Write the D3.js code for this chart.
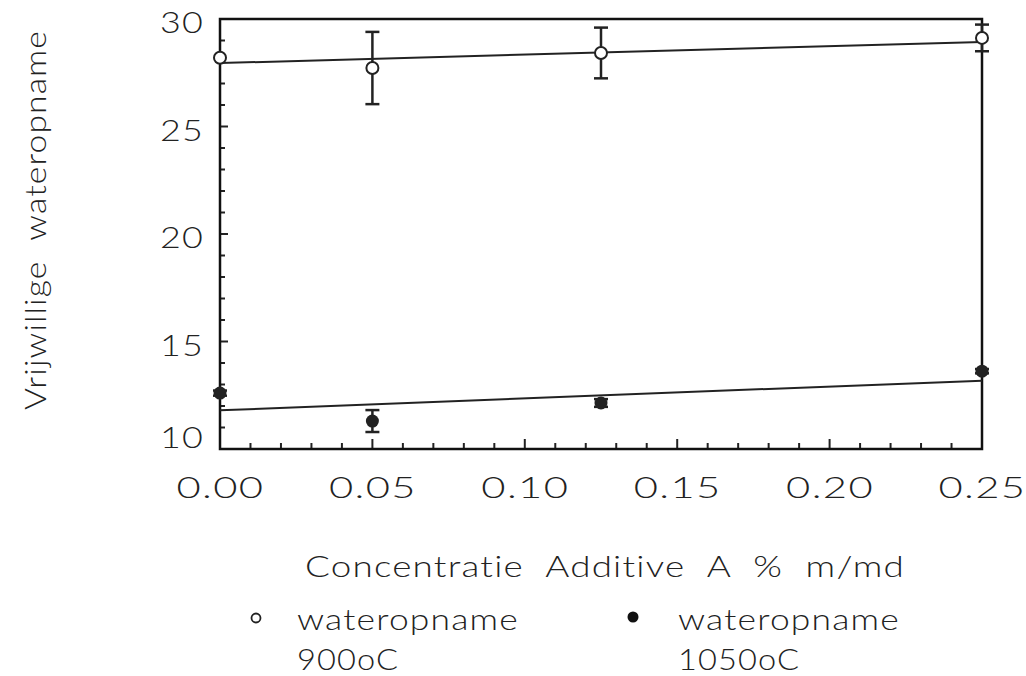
<!DOCTYPE html>
<html>
<head>
<meta charset="utf-8">
<script src="https://cdn.jsdelivr.net/npm/d3@7"></script>
<style>
  body { margin: 0; background: #fff; }
  text { font-family: "Lato", "DejaVu Sans", sans-serif; font-weight: 300; fill: #222; white-space: pre; letter-spacing: 1px; }
</style>
</head>
<body>
<script>
// data
var concentrations = [0, 0.05, 0.125, 0.25];
var water900 = [28.2, 27.72, 28.42, 29.12];
var err900 = [0, 1.68, 1.18, 0.62];
var water1050 = [12.6, 11.3, 12.14, 13.62];
var err1050 = [0.12, 0.51, 0.18, 0.1];
var fit900 = [27.95, 28.93];   // fit line at x = 0 and x = 0.25
var fit1050 = [11.8, 13.18];
var xTicks = [0, 0.05, 0.10, 0.15, 0.20, 0.25];
var yTicks = [10, 15, 20, 25, 30];

var svgWidth = 1026;
var svgHeight = 676;

var chartMargin = { top: 19, left: 220 };
var chartWidth = 762;
var chartHeight = 430;

var svg = d3.select("body")
  .append("svg")
  .attr("width", svgWidth)
  .attr("height", svgHeight);

var chartGroup = svg.append("g")
  .attr("transform", `translate(${chartMargin.left}, ${chartMargin.top})`);

var xScale = d3.scaleLinear().domain([0, 0.25]).range([0, chartWidth]);
var yScale = d3.scaleLinear().domain([10, 30]).range([chartHeight, 0]);

// minor ticks, pointing inwards
var xMinor = d3.range(1, 25).map(d => d / 100);
chartGroup.selectAll(".xtick")
  .data(xMinor)
  .enter()
  .append("line")
  .attr("x1", d => xScale(d))
  .attr("x2", d => xScale(d))
  .attr("y1", chartHeight)
  .attr("y2", (d, i) => chartHeight - ((i + 1) % 5 == 0 ? 10 : 6))
  .attr("stroke", "#222")
  .attr("stroke-width", 2);

var yMinor = d3.range(11, 30);
chartGroup.selectAll(".ytick")
  .data(yMinor)
  .enter()
  .append("line")
  .attr("x1", 0)
  .attr("x2", d => (d % 5 == 0 ? 8 : 5))
  .attr("y1", d => yScale(d))
  .attr("y2", d => yScale(d))
  .attr("stroke", "#222")
  .attr("stroke-width", 2);

// frame
chartGroup.append("rect")
  .attr("width", chartWidth)
  .attr("height", chartHeight)
  .attr("fill", "none")
  .attr("stroke", "#111")
  .attr("stroke-width", 2.5);

// tick labels
var xAxis = d3.axisBottom(xScale).tickValues(xTicks).tickFormat(d3.format(".2f")).tickSize(0).tickPadding(28);
var xg = chartGroup.append("g")
  .attr("transform", `translate(0, ${chartHeight})`)
  .call(xAxis);
xg.select(".domain").remove();
xg.selectAll("text")
  .style("font-family", "Lato, sans-serif")
  .style("font-weight", 300)
  .style("font-size", "30px")
  .style("fill", "#222")
  .attr("textLength", 88)
  .attr("lengthAdjust", "spacingAndGlyphs");

var yAxis = d3.axisLeft(yScale).tickValues(yTicks).tickSize(0).tickPadding(16);
var yg = chartGroup.append("g").call(yAxis);
yg.select(".domain").remove();
yg.selectAll("text")
  .style("font-family", "Lato, sans-serif")
  .style("font-weight", 300)
  .style("font-size", "30px")
  .style("fill", "#222")
  .attr("dy", d => d == 10 ? "-0.05em" : "0.45em")
  .attr("textLength", 44)
  .attr("lengthAdjust", "spacingAndGlyphs");

// fit lines
var fitLine = d3.line().x(d => xScale(d[0])).y(d => yScale(d[1]));
[fit900, fit1050].forEach(function(f) {
  chartGroup.append("path")
    .attr("d", fitLine([[0, f[0]], [0.25, f[1]]]))
    .attr("fill", "none")
    .attr("stroke", "#222")
    .attr("stroke-width", 2);
});

// error bars
function drawErrors(values, errs) {
  values.forEach(function(v, i) {
    if (errs[i] <= 0) return;
    var x = xScale(concentrations[i]);
    var g = chartGroup.append("g").attr("stroke", "#222").attr("stroke-width", 2.5);
    g.append("line").attr("x1", x).attr("x2", x)
      .attr("y1", yScale(v + errs[i])).attr("y2", yScale(v - errs[i]));
    [v + errs[i], v - errs[i]].forEach(function(e) {
      g.append("line").attr("x1", x - 7).attr("x2", x + 7)
        .attr("y1", yScale(e)).attr("y2", yScale(e));
    });
  });
}
drawErrors(water900, err900);
drawErrors(water1050, err1050);

// markers
chartGroup.selectAll(".open")
  .data(water900)
  .enter()
  .append("circle")
  .attr("cx", (d, i) => xScale(concentrations[i]))
  .attr("cy", d => yScale(d))
  .attr("r", 6)
  .attr("fill", "#fff")
  .attr("stroke", "#222")
  .attr("stroke-width", 2);

chartGroup.selectAll(".filled")
  .data(water1050)
  .enter()
  .append("circle")
  .attr("cx", (d, i) => xScale(concentrations[i]))
  .attr("cy", d => yScale(d))
  .attr("r", 6.5)
  .attr("fill", "#222");

// axis titles
svg.append("text")
  .attr("x", 305)
  .attr("y", 577)
  .attr("font-size", "30px")
  .attr("textLength", 600)
  .attr("lengthAdjust", "spacingAndGlyphs")
  .text("Concentratie  Additive  A  %  m/md");

svg.append("text")
  .attr("transform", "translate(46, 410) rotate(-90)")
  .attr("font-size", "30px")
  .attr("textLength", 380)
  .attr("lengthAdjust", "spacingAndGlyphs")
  .text("Vrijwillige  wateropname");

// legend
svg.append("circle").attr("cx", 256).attr("cy", 618).attr("r", 4.5)
  .attr("fill", "#fff").attr("stroke", "#222").attr("stroke-width", 1.8);
svg.append("circle").attr("cx", 633).attr("cy", 617).attr("r", 5.5).attr("fill", "#111");

var legendText = [
  { x: 297, y: 630, t: "wateropname", w: 222 },
  { x: 297, y: 670, t: "900oC", w: 102 },
  { x: 678, y: 630, t: "wateropname", w: 222 },
  { x: 678, y: 670, t: "1050oC", w: 122 }
];
svg.selectAll(".leg")
  .data(legendText)
  .enter()
  .append("text")
  .attr("x", d => d.x)
  .attr("y", d => d.y)
  .attr("font-size", "30px")
  .attr("textLength", d => d.w)
  .attr("lengthAdjust", "spacingAndGlyphs")
  .text(d => d.t);
</script>
</body>
</html>
